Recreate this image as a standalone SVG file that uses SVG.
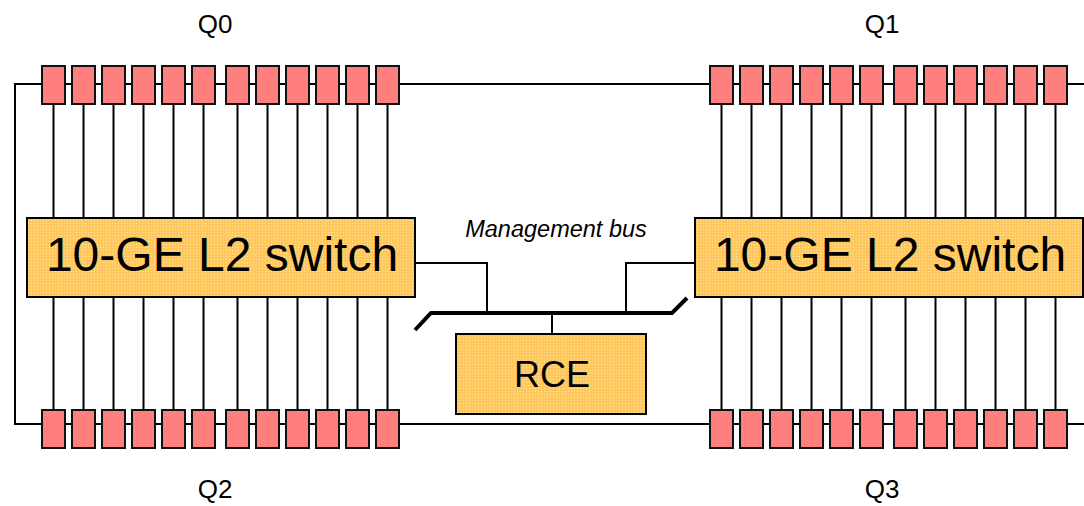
<svg xmlns="http://www.w3.org/2000/svg" width="1084" height="506" viewBox="0 0 1084 506">
<style>
.ln{stroke:#000;stroke-width:2;fill:none}
.bus{stroke:#000;stroke-width:4;fill:none}
.port{fill:#FF7F7F;stroke:#111;stroke-width:2}
.box{fill:url(#chk);stroke:#000;stroke-width:2}
.t{font-family:"Liberation Sans",Arial,sans-serif;fill:#000}
</style>
<defs>
<pattern id="chk" width="3" height="3" patternUnits="userSpaceOnUse">
<rect width="3" height="3" fill="#FFC85C"/>
<rect x="1" y="1" width="1" height="1" fill="#FFE4AE"/>
</pattern>
<g id="row">
<rect class="port" x="0" y="0" width="23" height="38"/>
<rect class="port" x="30" y="0" width="23" height="38"/>
<rect class="port" x="60" y="0" width="23" height="38"/>
<rect class="port" x="90" y="0" width="23" height="38"/>
<rect class="port" x="120" y="0" width="23" height="38"/>
<rect class="port" x="150" y="0" width="23" height="38"/>
<rect class="port" x="184" y="0" width="23" height="38"/>
<rect class="port" x="214" y="0" width="23" height="38"/>
<rect class="port" x="244" y="0" width="23" height="38"/>
<rect class="port" x="274" y="0" width="23" height="38"/>
<rect class="port" x="304" y="0" width="23" height="38"/>
<rect class="port" x="334" y="0" width="23" height="38"/>
</g>
<path id="drops" class="ln" d="M11.5,0v114M41.5,0v114M71.5,0v114M101.5,0v114M131.5,0v114M161.5,0v114M195.5,0v114M225.5,0v114M255.5,0v114M285.5,0v114M315.5,0v114M345.5,0v114"/>
</defs>
<g id="connectors">
<path class="ln" d="M42,84H15V424H42"/>
<path class="ln" d="M42,84H1084M42,424H1084"/>
<use href="#drops" x="42" y="104"/>
<use href="#drops" x="42" y="297"/>
<use href="#drops" x="710" y="104"/>
<use href="#drops" x="710" y="297"/>
<path class="ln" d="M415,263H487V312M695,263H626V312M552,313V334"/>
<path class="bus" d="M415,330L431,313H672L687,298"/>
</g>
<g id="Q0-ports"><use href="#row" x="42" y="66"/></g>
<g id="Q1-ports"><use href="#row" x="710" y="66"/></g>
<g id="Q2-ports"><use href="#row" x="42" y="410"/></g>
<g id="Q3-ports"><use href="#row" x="710" y="410"/></g>
<g id="switch-left">
<rect class="box" x="27" y="218" width="388" height="79"/>
<text class="t" x="222" y="271" font-size="48" text-anchor="middle">10-GE L2 switch</text>
</g>
<g id="switch-right">
<rect class="box" x="695" y="218" width="388" height="79"/>
<text class="t" x="890" y="271" font-size="48" text-anchor="middle">10-GE L2 switch</text>
</g>
<g id="rce">
<rect class="box" x="456" y="334" width="190" height="80"/>
<text class="t" x="552" y="387" font-size="36" text-anchor="middle">RCE</text>
</g>
<g id="labels">
<text class="t" x="556" y="237" font-size="23.5" font-style="italic" text-anchor="middle">Management bus</text>
<text class="t" x="215" y="33" font-size="26" text-anchor="middle">Q0</text>
<text class="t" x="882" y="33" font-size="26" text-anchor="middle">Q1</text>
<text class="t" x="215" y="498" font-size="26" text-anchor="middle">Q2</text>
<text class="t" x="882" y="498" font-size="26" text-anchor="middle">Q3</text>
</g>
</svg>
